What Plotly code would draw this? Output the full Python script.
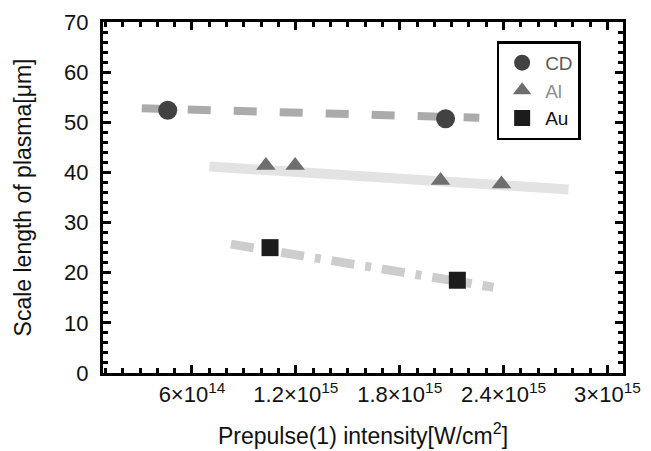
import plotly.graph_objects as go

# ---- data ----
cd_x = [4.6e14, 2.065e15]
cd_y = [52.4, 50.7]
al_x = [1.027e15, 1.196e15, 2.036e15, 2.388e15]
al_y = [41.4, 41.4, 38.4, 37.7]
au_x = [1.051e15, 2.133e15]
au_y = [25.0, 18.5]

cd_fit_x = [3.1e14, 2.26e15]
cd_fit_y = [52.8, 50.9]
al_fit_x = [7.0e14, 2.775e15]
al_fit_y = [41.2, 36.6]
au_fit_x = [8.25e14, 2.342e15]
au_fit_y = [25.7, 17.1]

x_tickvals = [6e14, 1.2e15, 1.8e15, 2.4e15, 3e15]
x_ticktext = ["6×10<sup>14</sup>", "1.2×10<sup>15</sup>", "1.8×10<sup>15</sup>",
              "2.4×10<sup>15</sup>", "3×10<sup>15</sup>"]
y_tickvals = [0, 10, 20, 30, 40, 50, 60, 70]

FONT = "Liberation Sans, Arial, Helvetica, sans-serif"

fig = go.Figure()

# fit lines
fig.add_trace(go.Scatter(x=cd_fit_x, y=cd_fit_y, mode="lines", showlegend=False,
                         line=dict(color="#ababab", width=8, dash="23px,23px")))
fig.add_trace(go.Scatter(x=al_fit_x, y=al_fit_y, mode="lines", showlegend=False,
                         line=dict(color="#e3e3e3", width=10)))
fig.add_trace(go.Scatter(x=au_fit_x, y=au_fit_y, mode="lines", showlegend=False,
                         line=dict(color="#cdcdcd", width=9, dash="23px,11px,6px,11px")))

# markers
fig.add_trace(go.Scatter(x=cd_x, y=cd_y, mode="markers",
                         name="<span style='color:#5a5a5a'>CD</span>",
                         marker=dict(symbol="circle", size=19, color="#424242")))
fig.add_trace(go.Scatter(x=al_x, y=al_y, mode="markers",
                         name="<span style='color:#8e8e8e'>Al</span>",
                         marker=dict(symbol="triangle-up", size=17, color="#6e6e6e")))
fig.add_trace(go.Scatter(x=au_x, y=au_y, mode="markers",
                         name="<span style='color:#111111'>Au</span>",
                         marker=dict(symbol="square", size=17, color="#1c1c1c")))

fig.update_layout(
    width=651, height=451,
    margin=dict(l=103, r=28, t=22, b=78),
    paper_bgcolor="white", plot_bgcolor="white",
    font=dict(family=FONT, size=20, color="#111111"),
    showlegend=True,
    legend=dict(x=0.757, y=0.945, xanchor="left", yanchor="top",
                bgcolor="white", bordercolor="black", borderwidth=2.5,
                font=dict(family=FONT, size=19), tracegroupgap=0,
                itemsizing="trace", itemwidth=36),
    xaxis=dict(
        range=[0.86e14, 3.09e15], automargin=False,
        tickmode="array", tickvals=x_tickvals, ticktext=x_ticktext,
        ticks="inside", ticklen=8, tickwidth=2.5, tickcolor="black",
        showline=True, linewidth=3, linecolor="black", mirror="allticks",
        showgrid=False, zeroline=False,
        tickfont=dict(family=FONT, size=22), ticklabelstandoff=0,
        minor=dict(dtick=1e14, tick0=0, ticks="inside", ticklen=5, tickwidth=2.5,
                   tickcolor="black", showgrid=False),
        title=dict(text="Prepulse(1) intensity[W/cm<sup>2</sup>]",
                   font=dict(family=FONT, size=23), standoff=22),
    ),
    yaxis=dict(
        range=[0, 70], automargin=False,
        tickmode="array", tickvals=y_tickvals,
        ticks="inside", ticklen=8, tickwidth=2.5, tickcolor="black",
        showline=True, linewidth=3, linecolor="black", mirror="allticks",
        showgrid=False, zeroline=False,
        tickfont=dict(family=FONT, size=22), ticklabelstandoff=7,
        minor=dict(dtick=2, tick0=0, ticks="inside", ticklen=5, tickwidth=2.5,
                   tickcolor="black", showgrid=False),
        title=dict(text="Scale length of plasma[μm]",
                   font=dict(family=FONT, size=23), standoff=27),
    ),
)

fig.write_html("out.html", config={"displayModeBar": False},
               post_script="document.body.style.margin='0';document.body.style.overflow='hidden';")
